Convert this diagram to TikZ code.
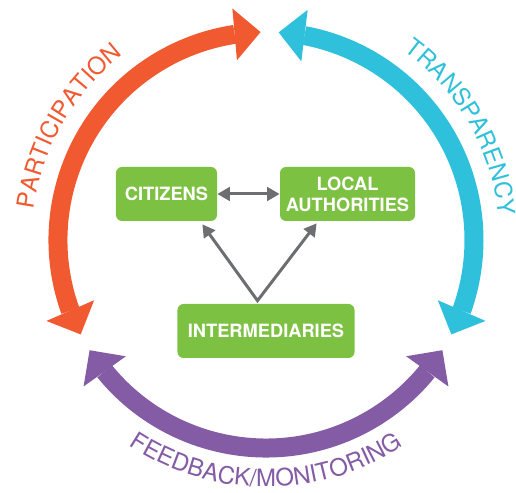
\documentclass[tikz,border=0pt]{standalone}
\usepackage{fontspec}
\setmainfont{TeX Gyre Heros}
\usepackage{xcolor}
\usetikzlibrary{arrows.meta,bending,decorations.text}

\definecolor{partorange}{HTML}{F15A30}
\definecolor{transcyan}{HTML}{2FC1DB}
\definecolor{feedpurple}{HTML}{845BA5}
\definecolor{actorgreen}{HTML}{7DC143}
\definecolor{linkgray}{HTML}{6D6E71}

\newcommand{\arcfont}{\fontsize{13.6}{16}\selectfont}

\begin{document}
\begin{tikzpicture}[scale=0.2,
  actor/.style={fill=actorgreen, rounded corners=0.12cm, minimum height=1.08cm,
    inner sep=0pt, align=center, text=white,
    font=\fontsize{10.4}{12}\selectfont\bfseries},
  cyclearrow/.style={line width=0.38cm,
    {Triangle[length=0.52cm,width=1.04cm,line width=0pt,flex]}-{Triangle[length=0.52cm,width=1.04cm,line width=0pt,flex]}},
  link/.style={draw=linkgray, line width=0.06cm,
    {Triangle[length=0.25cm,width=0.27cm]}-{Triangle[length=0.25cm,width=0.27cm]}},
  arclabel/.style={decorate, decoration={text along path, text align=center, text color=#1}}]
\useasboundingbox (-26.6,-25.3) rectangle (25.0,24.0);
% the three cycle arrows
\draw [cyclearrow, color=partorange] (207:20.8) arc [start angle=207, end angle=91.5, radius=20.8];
\draw [cyclearrow, color=transcyan] (-27:20.8) arc [start angle=-27, end angle=86.5, radius=20.8];
\draw [cyclearrow, color=feedpurple] (212:20.8) arc [start angle=212, end angle=328, radius=20.8];
\path [arclabel=partorange, decoration={text={|\arcfont|PARTICIPATION}}] (180:23.4) arc [start angle=180, end angle=120, radius=23.4];
\path [arclabel=transcyan, decoration={text={|\arcfont|TRANSPARENCY}}] (60:23.4) arc [start angle=60, end angle=0, radius=23.4];
\path [arclabel=feedpurple, decoration={text={|\arcfont|FEEDBACK/MONITORING}}] (230:24.7) arc [start angle=230, end angle=310, radius=24.7];
% actors
\node [actor, minimum width=2.02cm] (citizens) at (-9.95,4.6) {CITIZENS};
\node [actor, minimum width=2.7cm] (authorities) at (8.15,4.6) {LOCAL\\AUTHORITIES};
\node [actor, minimum width=3.54cm] (intermediaries) at (0,-9.1) {INTERMEDIARIES};
\coordinate (fork) at ([xshift=-0.85cm,yshift=0.3cm]intermediaries.north);
\coordinate (citizens tip) at ([xshift=-1.5cm,yshift=-0.3cm]citizens.south east);
\coordinate (authorities tip) at ([xshift=3.7cm,yshift=-0.2cm]authorities.south west);
\draw [link] (citizens) -- (authorities);
\draw [link] (citizens tip) -- (fork) -- (authorities tip);
\end{tikzpicture}
\end{document}
